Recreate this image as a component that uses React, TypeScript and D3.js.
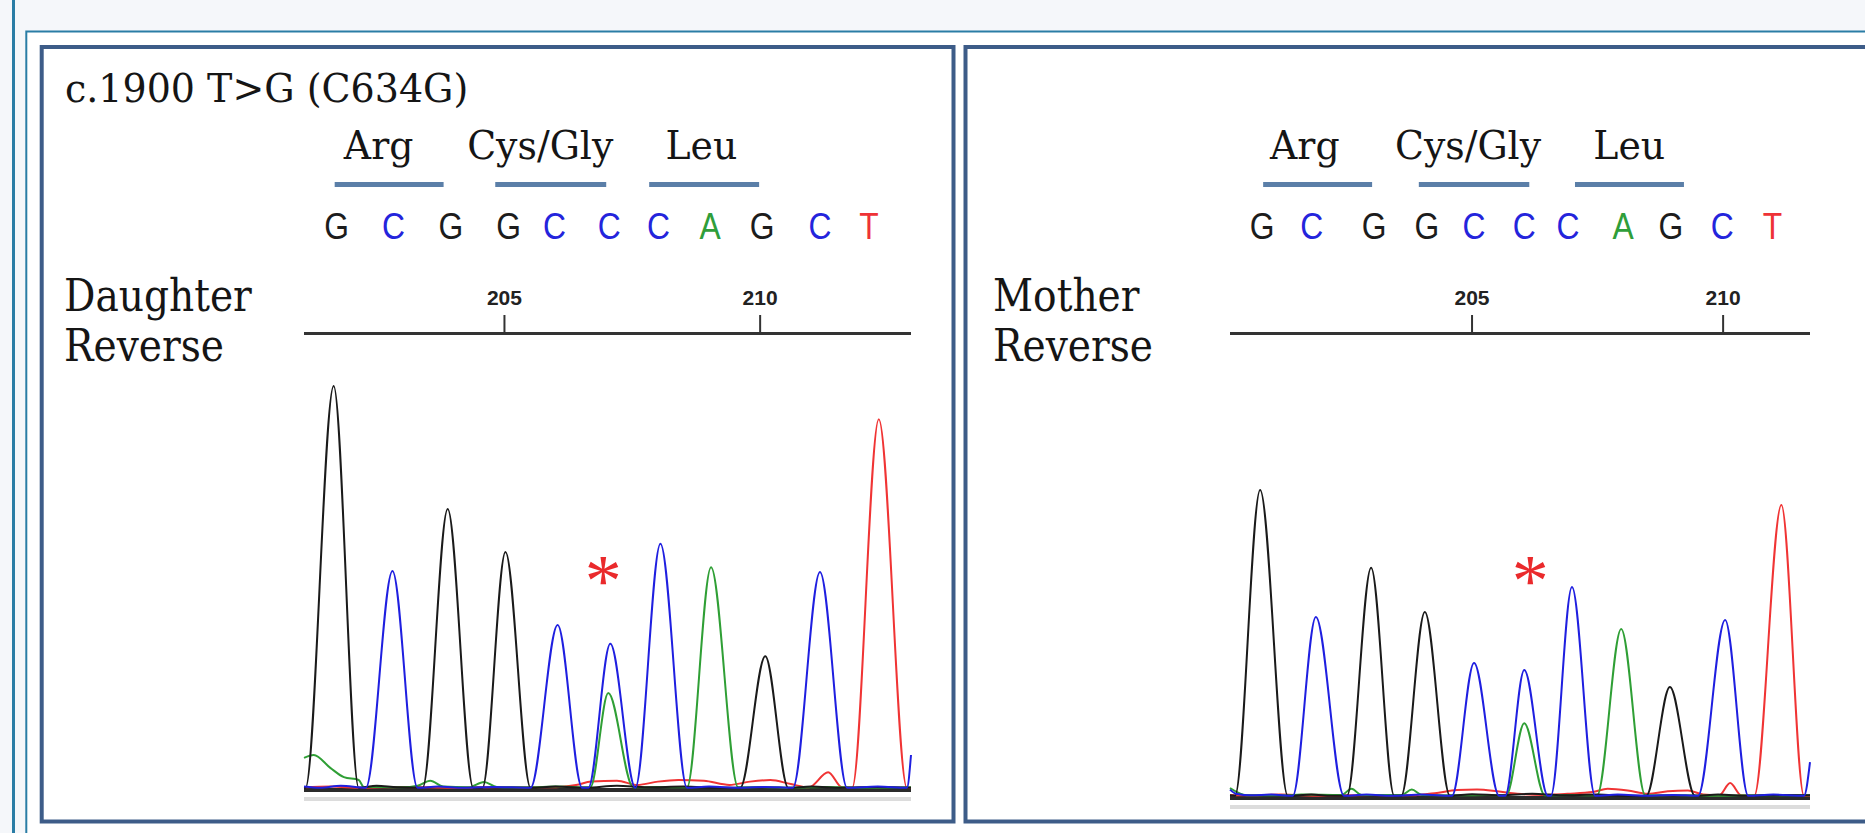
import React, { useEffect } from 'react';
import * as d3 from 'd3';

type Pt = [number, number];

// ---------- shared data ----------
const BASES = ['G', 'C', 'G', 'G', 'C', 'C', 'C', 'A', 'G', 'C', 'T'];
const CODONS = ['Arg', 'Cys/Gly', 'Leu'];
const TICKS = [205, 210];
const TITLE = 'c.1900 T>G (C634G)';

// ---------- Daughter (reverse) ----------
const daughterLabel = ['Daughter', 'Reverse'];
const daughterDomain = [201.08, 212.95];
const daughterCallPos = [201.72, 202.83, 203.95, 205.08, 205.98, 207.05, 208.01, 209.02, 210.04, 211.17, 212.13];
const daughterCodonLabelPos = [202.54, 205.7, 208.85];
const daughterCodonStart = [201.68, 204.82, 207.83];
const daughterCodonEnd = [203.81, 206.99, 209.98];
const daughterMutation: Pt = [206.93, 527];
const daughterG: Pt[] = [
  [201.08, 3], [201.11, 3], [201.66, 983], [202.15, 3], [202.5, 8], [202.9, 4], [203.4, 3],
  [203.89, 683], [204.39, 3], [204.57, 3], [205.02, 578], [205.51, 3], [206.0, 6], [206.6, 3],
  [207.2, 8], [207.8, 4], [208.5, 6], [209.2, 3], [209.61, 3], [210.1, 324], [210.55, 3],
  [211.0, 6], [211.6, 3], [212.3, 5], [212.95, 3],
];
const daughterC: Pt[] = [
  [201.08, 6], [201.4, 3], [201.8, 8], [202.29, 3], [202.81, 532], [203.3, 3], [203.7, 6],
  [204.2, 3], [204.8, 5], [205.51, 3], [206.04, 400], [206.52, 3], [206.64, 3], [207.07, 354],
  [207.56, 3], [208.05, 598], [208.57, 3], [209.0, 6], [209.6, 3], [210.1, 5], [210.64, 3],
  [211.17, 529], [211.7, 3], [212.3, 6], [212.87, 3], [212.95, 83],
];
const daughterA: Pt[] = [
  [201.08, 76], [201.27, 83], [201.6, 51], [201.86, 29], [202.15, 22], [202.25, 5], [202.6, 5],
  [203.0, 4], [203.3, 8], [203.55, 20], [203.8, 6], [204.3, 4], [204.6, 17], [204.85, 5],
  [205.5, 4], [206.0, 6], [206.68, 4], [207.03, 234], [207.52, 4], [208.0, 5], [208.57, 4],
  [209.04, 541], [209.57, 4], [210.0, 5], [210.6, 3], [211.3, 5], [212.0, 3], [212.95, 4],
];
const daughterT: Pt[] = [
  [201.08, 4], [201.6, 6], [202.2, 3], [203.0, 5], [204.0, 3], [205.0, 5], [205.9, 4],
  [206.4, 10], [206.7, 18], [207.2, 20], [207.6, 10], [208.0, 18], [208.4, 22], [208.9, 20],
  [209.4, 10], [209.8, 18], [210.2, 22], [210.6, 12], [210.95, 4], [211.33, 41], [211.6, 4],
  [211.8, 3], [212.32, 902], [212.87, 3], [212.95, 3],
];

// ---------- Mother (reverse) ----------
const motherLabel = ['Mother', 'Reverse'];
const motherDomain = [200.18, 211.73];
const motherCallPos = [200.82, 201.81, 203.05, 204.1, 205.04, 206.04, 206.91, 208.01, 208.96, 209.98, 210.98];
const motherCodonLabelPos = [201.67, 204.92, 208.13];
const motherCodonStart = [200.84, 203.94, 207.05];
const motherCodonEnd = [203.01, 206.14, 209.22];
const motherMutation: Pt = [206.16, 546];
const motherG: Pt[] = [
  [200.18, 4], [200.28, 3], [200.78, 749], [201.33, 3], [201.8, 6], [202.2, 3], [202.51, 3],
  [202.99, 559], [203.45, 3], [203.59, 3], [204.06, 451], [204.56, 3], [205.0, 7], [205.6, 4],
  [206.2, 8], [206.8, 4], [207.5, 6], [208.1, 3], [208.47, 3], [208.94, 268], [209.44, 3],
  [209.9, 6], [210.5, 3], [211.2, 5], [211.73, 4],
];
const motherC: Pt[] = [
  [200.18, 18], [200.3, 8], [200.6, 4], [201.0, 6], [201.43, 3], [201.89, 439], [202.45, 3],
  [202.9, 6], [203.4, 3], [204.0, 6], [204.6, 3], [205.04, 327], [205.54, 3], [205.66, 3],
  [206.04, 310], [206.51, 3], [206.57, 3], [206.99, 512], [207.45, 3], [207.9, 6], [208.5, 3],
  [209.0, 5], [209.5, 3], [210.04, 432], [210.5, 3], [211.0, 6], [211.61, 3], [211.73, 85],
];
const motherA: Pt[] = [
  [200.18, 22], [200.32, 12], [200.55, 4], [201.3, 4], [201.6, 6], [202.4, 5], [202.6, 20],
  [202.8, 5], [203.6, 5], [203.8, 18], [204.0, 5], [204.8, 4], [205.3, 5], [205.68, 4],
  [206.04, 180], [206.45, 4], [207.0, 5], [207.49, 4], [207.97, 410], [208.45, 4], [209.0, 5],
  [209.8, 3], [210.6, 4], [211.73, 4],
];
const motherT: Pt[] = [
  [200.18, 5], [200.5, 4], [201.2, 6], [202.0, 3], [203.0, 5], [203.8, 4], [204.3, 10],
  [204.7, 17], [205.1, 18], [205.5, 14], [205.9, 8], [206.4, 5], [206.9, 8], [207.4, 12],
  [207.7, 20], [208.1, 16], [208.5, 8], [208.9, 14], [209.3, 16], [209.6, 6], [209.92, 4],
  [210.14, 34], [210.36, 4], [210.62, 3], [211.16, 712], [211.61, 3], [211.73, 3],
];

// ---------- styles ----------
const BASE_COLORS: Record<string, string> = { G: '#1c1c1c', C: '#2424dc', A: '#2f9e3a', T: '#ee3236' };
const TRACE_COLORS: Record<string, string> = { G: '#1a1a1a', C: '#1f1fe0', A: '#2f9f35', T: '#f03434' };
const SERIF = '"DejaVu Serif", serif';
const SANS = '"Liberation Sans", Arial, sans-serif';

interface STextProps {
  x: number;
  y: number;
  sx: number;
  size: number;
  family: string;
  fill: string;
  anchor?: string;
  weight?: string;
  children: React.ReactNode;
}

function SText({ x, y, sx, size, family, fill, anchor, weight, children }: STextProps) {
  return (
    <text
      transform={`translate(${x},${y}) scale(${sx},1)`}
      textAnchor={anchor || 'start'}
      fontFamily={family}
      fontSize={size}
      fontWeight={weight || 'normal'}
      fill={fill}
    >
      {children}
    </text>
  );
}

interface PanelProps {
  label: string[];
  labelX: number;
  title?: string;
  domain: number[];
  xRange: [number, number];
  yRange: [number, number];
  callPos: number[];
  codonLabelPos: number[];
  codonStart: number[];
  codonEnd: number[];
  traces: Record<string, Pt[]>;
  mutation: Pt;
}

function Panel(p: PanelProps) {
  const x = d3.scaleLinear().domain(p.domain).range(p.xRange);
  const y = d3.scaleLinear().domain([0, 1000]).range(p.yRange);
  const line = d3
    .line<Pt>()
    .x((d) => x(d[0]))
    .y((d) => y(d[1]))
    .curve(d3.curveMonotoneX);
  const axisY = 333.5;
  const order = ['T', 'A', 'G', 'C'];
  return (
    <g>
      {p.title && (
        <SText x={p.labelX + 1} y={102} sx={0.95} size={40} family={SERIF} fill="#151515">
          {p.title}
        </SText>
      )}
      {CODONS.map((c, i) => (
        <g key={c}>
          <SText x={x(p.codonLabelPos[i])} y={159} sx={0.97} size={39} family={SERIF} fill="#151515" anchor="middle">
            {c}
          </SText>
          <line x1={x(p.codonStart[i])} x2={x(p.codonEnd[i])} y1={184.5} y2={184.5} stroke="#5b7fa8" strokeWidth={5} />
        </g>
      ))}
      {BASES.map((b, i) => (
        <SText key={i} x={x(p.callPos[i])} y={239} sx={0.86} size={37} family={SANS} fill={BASE_COLORS[b]} anchor="middle">
          {b}
        </SText>
      ))}
      {p.label.map((t, i) => (
        <SText key={t} x={p.labelX} y={311 + i * 50} sx={0.89} size={44} family={SERIF} fill="#151515">
          {t}
        </SText>
      ))}
      <line x1={p.xRange[0]} x2={p.xRange[1]} y1={axisY} y2={axisY} stroke="#333" strokeWidth={3} />
      {TICKS.map((t) => (
        <g key={t}>
          <line x1={x(t)} x2={x(t)} y1={315} y2={axisY} stroke="#333" strokeWidth={2} />
          <text x={x(t)} y={305} textAnchor="middle" fontFamily={SANS} fontWeight="bold" fontSize={21} fill="#222">
            {t}
          </text>
        </g>
      ))}
      <line x1={p.xRange[0]} x2={p.xRange[1]} y1={y(0) + 10} y2={y(0) + 10} stroke="#dcdcdc" strokeWidth={4} />
      <line x1={p.xRange[0]} x2={p.xRange[1]} y1={y(0) + 1} y2={y(0) + 1} stroke="#2a2a2a" strokeWidth={4} />
      {order.map((b) => (
        <path key={b} d={line(p.traces[b]) || ''} fill="none" stroke={TRACE_COLORS[b]} strokeWidth={2} strokeLinejoin="round" />
      ))}
      <text x={x(p.mutation[0])} y={y(p.mutation[1]) + 33} textAnchor="middle" fontFamily='"Liberation Serif", serif' fontSize={74} fill="#ea2a2c">
        *
      </text>
    </g>
  );
}

export default function App() {
  useEffect(() => {
    document.body.style.margin = '0';
    document.body.style.overflow = 'hidden';
  }, []);
  const W = 1865;
  const H = 833;
  return (
    <svg width={W} height={H} style={{ position: 'absolute', left: 0, top: 0, display: 'block' }}>
      <rect x={0} y={0} width={W} height={H} fill="#f5f7fa" />
      <rect x={26.3} y={31.5} width={W} height={H} fill="#ffffff" stroke="#2a7da5" strokeWidth={2} />
      <line x1={13.5} x2={13.5} y1={0} y2={H} stroke="#2a7da5" strokeWidth={3} />
      <rect x={41.7} y={47} width={911.8} height={774.5} fill="#ffffff" stroke="#3d5c88" strokeWidth={4} />
      <rect x={965.5} y={47} width={1000} height={774.5} fill="#ffffff" stroke="#3d5c88" strokeWidth={4} />
      <Panel
        title={TITLE}
        label={daughterLabel}
        labelX={64}
        domain={daughterDomain}
        xRange={[304, 911]}
        yRange={[789, 379]}
        callPos={daughterCallPos}
        codonLabelPos={daughterCodonLabelPos}
        codonStart={daughterCodonStart}
        codonEnd={daughterCodonEnd}
        traces={{ G: daughterG, C: daughterC, A: daughterA, T: daughterT }}
        mutation={daughterMutation}
      />
      <Panel
        label={motherLabel}
        labelX={993}
        domain={motherDomain}
        xRange={[1230, 1810]}
        yRange={[797, 387]}
        callPos={motherCallPos}
        codonLabelPos={motherCodonLabelPos}
        codonStart={motherCodonStart}
        codonEnd={motherCodonEnd}
        traces={{ G: motherG, C: motherC, A: motherA, T: motherT }}
        mutation={motherMutation}
      />
    </svg>
  );
}
